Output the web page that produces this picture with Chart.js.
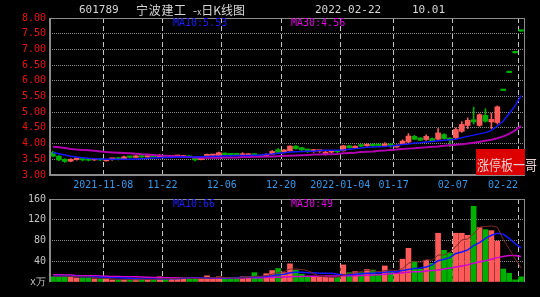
<!DOCTYPE html>
<html>
<head>
<meta charset="utf-8">
<script src="https://cdn.jsdelivr.net/npm/chart.js@4.4.0/dist/chart.umd.min.js"></script>
<style>
html, body { margin: 0; padding: 0; background: #000; }
#wrap { position: relative; width: 540px; height: 297px; overflow: hidden; background: #000; }
canvas { position: absolute; left: 0; }
#priceChart { top: 0; }
#volChart { top: 192px; }
.txt { position: absolute; white-space: pre; font-family: 'DejaVu Sans Mono', monospace; font-size: 10px; line-height: 12px; }
.title { color: #d8d8d8; font-size: 11px; line-height: 13px; top: 3px; }
.cjk { font-family: 'Noto Sans CJK SC', sans-serif; font-size: 12px; }
#stamp { position: absolute; left: 476px; top: 149px; width: 49px; height: 26px; background: #dd0000; }
#stampText { position: absolute; left: 477px; top: 155px; color: #ecd0d0; font-family: 'Noto Sans CJK SC', sans-serif; font-size: 12px; line-height: 18px; white-space: pre; transform: scaleY(1.15); transform-origin: 0 50%; }
</style>
</head>
<body>
<div id="wrap">
  <canvas id="priceChart" width="540" height="192"></canvas>
  <canvas id="volChart" width="540" height="105"></canvas>

  <div class="txt title" style="left:79px">601789</div>
  <div class="txt title cjk" style="left:136px;letter-spacing:0.7px">宁波建工</div>
  <div class="txt title cjk" style="left:193px">-<span style="font-size:8px">x</span>日K线图</div>
  <div class="txt title" style="left:315px">2022-02-22</div>
  <div class="txt title" style="left:412px">10.01</div>

  <div class="txt" id="ma10Label" style="left:173px;top:17px;color:#1c1cff"></div>
  <div class="txt" id="ma30Label" style="left:291px;top:17px;color:#e000e0"></div>
  <div class="txt" id="vma10Label" style="left:173px;top:198px;color:#1c1cff"></div>
  <div class="txt" id="vma30Label" style="left:291px;top:198px;color:#e000e0"></div>

  <div id="stamp"></div>
  <div id="stampText">涨停板一哥</div>
</div>

<script>
const dates = [
  '2021-10-26', '2021-10-27', '2021-10-28', '2021-10-29',
  '2021-11-01', '2021-11-02', '2021-11-03', '2021-11-04', '2021-11-05',
  '2021-11-08', '2021-11-09', '2021-11-10', '2021-11-11', '2021-11-12',
  '2021-11-15', '2021-11-16', '2021-11-17', '2021-11-18', '2021-11-19',
  '2021-11-22', '2021-11-23', '2021-11-24', '2021-11-25', '2021-11-26',
  '2021-11-29', '2021-11-30', '2021-12-01', '2021-12-02', '2021-12-03',
  '2021-12-06', '2021-12-07', '2021-12-08', '2021-12-09', '2021-12-10',
  '2021-12-13', '2021-12-14', '2021-12-15', '2021-12-16', '2021-12-17',
  '2021-12-20', '2021-12-21', '2021-12-22', '2021-12-23', '2021-12-24',
  '2021-12-27', '2021-12-28', '2021-12-29', '2021-12-30', '2021-12-31',
  '2022-01-04', '2022-01-05', '2022-01-06', '2022-01-07',
  '2022-01-10', '2022-01-11', '2022-01-12', '2022-01-13', '2022-01-14',
  '2022-01-17', '2022-01-18', '2022-01-19', '2022-01-20', '2022-01-21',
  '2022-01-24', '2022-01-25', '2022-01-26', '2022-01-27', '2022-01-28',
  '2022-02-07', '2022-02-08', '2022-02-09', '2022-02-10', '2022-02-11',
  '2022-02-14', '2022-02-15', '2022-02-16', '2022-02-17', '2022-02-18',
  '2022-02-21', '2022-02-22'
];
const tickDates = ['2021-11-08', '2021-11-22', '2021-12-06', '2021-12-20', '2022-01-04', '2022-01-17', '2022-02-07', '2022-02-22'];

const opens = [
  3.72, 3.60, 3.50, 3.44, 3.49, 3.52, 3.49, 3.48, 3.50, 3.45,
  3.50, 3.55, 3.51, 3.58, 3.56, 3.58, 3.57, 3.61, 3.58, 3.61,
  3.57, 3.59, 3.57, 3.61, 3.56, 3.49, 3.56, 3.62, 3.62, 3.69,
  3.66, 3.66, 3.63, 3.63, 3.67, 3.62, 3.60, 3.66, 3.81, 3.72,
  3.77, 3.92, 3.87, 3.80, 3.76, 3.76, 3.66, 3.73, 3.76, 3.77,
  3.93, 3.87, 3.95, 3.93, 3.98, 3.96, 3.93, 3.97, 3.89, 3.99,
  4.05, 4.23, 4.18, 4.13, 4.16, 4.14, 4.29, 4.17, 4.19, 4.39,
  4.58, 4.76, 4.58, 4.90, 4.69, 4.67, 5.69, 6.26, 6.89, 7.58
];
const highs = [
  3.75, 3.62, 3.52, 3.52, 3.56, 3.53, 3.51, 3.51, 3.51, 3.51,
  3.52, 3.56, 3.60, 3.59, 3.62, 3.61, 3.62, 3.62, 3.66, 3.62,
  3.61, 3.62, 3.63, 3.62, 3.57, 3.55, 3.67, 3.64, 3.73, 3.70,
  3.69, 3.67, 3.71, 3.68, 3.68, 3.63, 3.68, 3.78, 3.84, 3.81,
  3.93, 3.94, 3.88, 3.82, 3.82, 3.78, 3.75, 3.77, 3.78, 3.94,
  3.95, 3.93, 3.97, 3.99, 3.99, 3.97, 4.03, 3.99, 3.96, 4.12,
  4.32, 4.26, 4.19, 4.28, 4.18, 4.48, 4.32, 4.19, 4.50, 4.70,
  4.82, 5.16, 4.95, 5.11, 4.97, 5.20, 5.69, 6.26, 6.89, 7.58
];
const lows = [
  3.58, 3.46, 3.40, 3.42, 3.47, 3.45, 3.45, 3.46, 3.46, 3.44,
  3.47, 3.48, 3.50, 3.54, 3.55, 3.56, 3.56, 3.57, 3.56, 3.57,
  3.56, 3.57, 3.56, 3.55, 3.45, 3.48, 3.55, 3.60, 3.60, 3.64,
  3.60, 3.62, 3.62, 3.61, 3.61, 3.58, 3.59, 3.65, 3.68, 3.70,
  3.76, 3.82, 3.78, 3.72, 3.72, 3.72, 3.63, 3.70, 3.70, 3.76,
  3.85, 3.85, 3.90, 3.91, 3.91, 3.91, 3.92, 3.88, 3.88, 3.97,
  4.03, 4.12, 4.09, 4.10, 4.06, 4.12, 4.14, 3.90, 4.16, 4.36,
  4.48, 4.62, 4.55, 4.68, 4.48, 4.62, 5.69, 6.26, 6.89, 7.58
];
const closes = [
  3.60, 3.48, 3.43, 3.50, 3.54, 3.48, 3.47, 3.50, 3.48, 3.50,
  3.51, 3.50, 3.58, 3.56, 3.61, 3.57, 3.61, 3.58, 3.62, 3.58,
  3.60, 3.61, 3.62, 3.56, 3.48, 3.54, 3.66, 3.63, 3.71, 3.65,
  3.64, 3.64, 3.66, 3.67, 3.63, 3.59, 3.66, 3.75, 3.72, 3.80,
  3.92, 3.84, 3.80, 3.78, 3.78, 3.77, 3.73, 3.74, 3.74, 3.93,
  3.87, 3.91, 3.92, 3.97, 3.93, 3.94, 3.99, 3.94, 3.95, 4.08,
  4.24, 4.14, 4.11, 4.23, 4.08, 4.34, 4.16, 4.11, 4.45, 4.61,
  4.74, 4.69, 4.92, 4.71, 4.77, 5.17, 5.69, 6.26, 6.89, 7.58
];
const ma10 = [
  3.72, 3.68, 3.64, 3.60, 3.57, 3.55, 3.53, 3.52, 3.51, 3.50,
  3.50, 3.50, 3.50, 3.50, 3.51, 3.52, 3.53, 3.54, 3.55, 3.56,
  3.56, 3.57, 3.57, 3.57, 3.57, 3.58, 3.59, 3.60, 3.60, 3.61,
  3.61, 3.62, 3.62, 3.62, 3.63, 3.64, 3.66, 3.67, 3.69, 3.71,
  3.73, 3.74, 3.75, 3.76, 3.76, 3.78, 3.79, 3.79, 3.79, 3.80,
  3.82, 3.84, 3.86, 3.88, 3.89, 3.90, 3.91, 3.92, 3.94, 3.97,
  3.99, 4.02, 4.03, 4.05, 4.07, 4.09, 4.11, 4.12, 4.14, 4.19,
  4.23, 4.27, 4.31, 4.35, 4.42, 4.56, 4.72, 4.96, 5.20, 5.53
];
const ma30 = [
  3.90, 3.88, 3.86, 3.83, 3.81, 3.80, 3.79, 3.77, 3.75, 3.73,
  3.72, 3.71, 3.70, 3.69, 3.68, 3.66, 3.65, 3.64, 3.62, 3.61,
  3.60, 3.59, 3.58, 3.57, 3.56, 3.55, 3.55, 3.55, 3.55, 3.56,
  3.56, 3.56, 3.57, 3.57, 3.58, 3.58, 3.59, 3.59, 3.60, 3.61,
  3.61, 3.62, 3.63, 3.64, 3.65, 3.65, 3.66, 3.66, 3.67, 3.69,
  3.70, 3.71, 3.73, 3.74, 3.75, 3.77, 3.78, 3.80, 3.81, 3.83,
  3.84, 3.85, 3.87, 3.88, 3.90, 3.91, 3.93, 3.95, 3.96, 3.98,
  4.00, 4.03, 4.06, 4.09, 4.12, 4.17, 4.23, 4.31, 4.42, 4.56
];

// volume in 万手
const volumes = [
  10, 10, 12, 12, 8, 8, 8, 6, 6, 6,
  4, 4, 4, 4, 6, 6, 4, 5, 10, 7,
  8, 7, 7, 7, 7, 7, 12, 7, 10, 7,
  7, 7, 10, 10, 18, 7, 16, 22, 26, 18,
  35, 23, 15, 10, 9, 9, 9, 9, 9, 33,
  18, 20, 18, 24, 23, 15, 31, 21, 17, 44,
  65, 40, 25, 42, 36, 94, 61, 56, 94, 94,
  90, 146, 105, 101, 99, 79, 25, 17, 4, 10
];
const volMa5 = [
  11, 11, 11, 11, 10, 10, 10, 8, 7, 7,
  6, 5, 5, 5, 4, 5, 5, 5, 6, 6,
  7, 7, 8, 7, 7, 7, 8, 8, 9, 9,
  8, 8, 8, 9, 11, 11, 12, 15, 18, 20,
  25, 25, 24, 22, 16, 11, 10, 9, 9, 14,
  16, 18, 20, 23, 21, 20, 22, 23, 22, 26,
  36, 40, 38, 43, 42, 52, 52, 58, 68, 81,
  83, 93, 106, 107, 108, 106, 82, 64, 45, 27
];
const volMa10 = [
  11, 11, 11, 11, 10.5, 10, 10, 9.5, 9, 8.5,
  8, 8, 7.5, 7, 6.5, 6, 6, 6, 6, 6,
  6.5, 6.5, 7, 7, 7, 7.5, 7.5, 8, 8, 8,
  8, 8.5, 8.5, 9, 10, 10, 11, 12, 14, 15,
  18, 19, 19, 18, 18, 17, 17, 17, 15, 14,
  14, 15, 16, 17, 17, 18, 19, 20, 20, 22,
  24, 26, 27, 29, 33, 41, 44, 47, 55, 58,
  62, 70, 76, 84, 90, 94, 92, 84, 74, 66
];
const volMa30 = [
  14, 14, 13.5, 13.5, 12.5, 12, 12, 12, 11.5, 11,
  10.5, 10.5, 10, 10, 10, 9.5, 9, 8.5, 8.5, 8,
  8, 8, 7.5, 7.5, 7.5, 7.5, 7.5, 7.5, 7.5, 7.5,
  7.5, 7.5, 7.5, 8, 8, 8, 8.5, 9, 9, 9.5,
  10, 10.5, 10.5, 11, 11, 11, 11.5, 11.5, 11.5, 12,
  12, 12, 12.5, 13, 13.5, 14, 15, 16, 17, 18,
  19, 20, 20, 21, 22, 23, 25, 27, 29, 31,
  33, 36, 39, 41, 44, 47, 49, 51, 51, 49
];

const upColor = '#ff5a5a';
const downColor = '#00b000';
const candleColors = closes.map((c, i) => c > opens[i] ? upColor : downColor);
const monoFont = { family: 'DejaVu Sans Mono', size: 10 };
const gridGray = '#8a8a8a';
const vLineGray = '#c4c4c4';

document.getElementById('ma10Label').textContent = 'MA10:' + ma10[ma10.length - 1].toFixed(2);
document.getElementById('ma30Label').textContent = 'MA30:' + ma30[ma30.length - 1].toFixed(2);
document.getElementById('vma10Label').textContent = 'MA10:' + volMa10[volMa10.length - 1].toFixed(0);
document.getElementById('vma30Label').textContent = 'MA30:' + volMa30[volMa30.length - 1].toFixed(0);

function dateTick(v, i) {
    const d = dates[i];
    const k = tickDates.indexOf(d);
    if (k < 0) return '';
    let s = (k === 0 || tickDates[k - 1].slice(0, 4) !== d.slice(0, 4)) ? d : d.slice(5);
    // keep the last label inside the plot, like the original
    if (i === dates.length - 1) s += '     ';
    return s;
}

function dateGridColor(ctx) {
    return tickDates.includes(dates[ctx.index]) ? vLineGray : 'rgba(0,0,0,0)';
}

// plot frame: top and right 1px, left 2px, bottom optional
const framePlugin = {
    id: 'frame',
    afterDatasetsDraw(chart, args, opts) {
        const { ctx, chartArea: a } = chart;
        ctx.save();
        ctx.strokeStyle = '#8c8c8c';
        ctx.lineWidth = 1;
        ctx.beginPath();
        ctx.moveTo(a.left, a.top + 0.5);
        ctx.lineTo(a.right + 1, a.top + 0.5);
        ctx.moveTo(a.right + 0.5, a.top);
        ctx.lineTo(a.right + 0.5, a.bottom);
        ctx.stroke();
        ctx.lineWidth = 2;
        ctx.beginPath();
        ctx.moveTo(a.left, a.top);
        ctx.lineTo(a.left, a.bottom + (opts.bottom ? 1 : 0));
        if (opts.bottom) {
            ctx.moveTo(a.left, a.bottom);
            ctx.lineTo(a.right + 1, a.bottom);
        }
        ctx.stroke();
        ctx.restore();
    }
};

function fitX(h) {
    return function(s) { s.height = h; s.paddingLeft = 0; s.paddingRight = 0; };
}
function fitY(s) {
    s.width = 50; s.paddingTop = 0; s.paddingBottom = 0;
}

new Chart(document.getElementById('priceChart'), {
    type: 'bar',
    data: {
        labels: dates,
        datasets: [
            { type: 'line', label: 'MA10', data: ma10, borderColor: '#1414ff', borderWidth: 1.5, pointRadius: 0, tension: 0, order: 0 },
            { type: 'line', label: 'MA30', data: ma30, borderColor: '#b000b0', borderWidth: 2, pointRadius: 0, tension: 0, order: 0 },
            { label: 'body', data: opens.map((o, i) => [o, closes[i]]), backgroundColor: candleColors, barThickness: 5, minBarLength: 1.5, grouped: false, order: 1 },
            { label: 'wick', data: lows.map((l, i) => [l, highs[i]]), backgroundColor: candleColors, barThickness: 1, grouped: false, order: 2 }
        ]
    },
    options: {
        responsive: false,
        animation: false,
        layout: { padding: { top: 18, right: 16, left: 0, bottom: 0 } },
        plugins: {
            legend: { display: false },
            tooltip: { enabled: false },
            frame: { bottom: true }
        },
        scales: {
            x: {
                afterFit: fitX(17),
                grid: { color: dateGridColor, lineWidth: 1, drawTicks: false },
                border: { display: false, dash: [5, 3] },
                ticks: { autoSkip: false, maxRotation: 0, minRotation: 0, padding: 4, labelOffset: -3, color: '#3399ee', font: monoFont, callback: dateTick }
            },
            y: {
                min: 3,
                max: 8,
                afterFit: fitY,
                grid: { color: ctx => (ctx.tick.value > 3 && ctx.tick.value < 8) ? gridGray : 'rgba(0,0,0,0)', drawTicks: false },
                border: { display: false, dash: [1, 1] },
                ticks: { stepSize: 0.5, padding: 4, color: '#ee1111', font: monoFont, callback: v => v.toFixed(2) }
            }
        }
    },
    plugins: [framePlugin]
});

new Chart(document.getElementById('volChart'), {
    type: 'bar',
    data: {
        labels: dates,
        datasets: [
            { type: 'line', label: 'MA5', data: volMa5, borderColor: '#7a2a2a', borderWidth: 1, pointRadius: 0, tension: 0, order: 0 },
            { type: 'line', label: 'MA10', data: volMa10, borderColor: '#1414ff', borderWidth: 1.5, pointRadius: 0, tension: 0, order: 0 },
            { type: 'line', label: 'MA30', data: volMa30, borderColor: '#d000d0', borderWidth: 1.5, pointRadius: 0, tension: 0, order: 0 },
            { label: 'VOL', data: volumes, backgroundColor: candleColors, barThickness: 5, grouped: false, order: 1 }
        ]
    },
    options: {
        responsive: false,
        animation: false,
        layout: { padding: { top: 7, right: 16, left: 0, bottom: 0 } },
        plugins: {
            legend: { display: false },
            tooltip: { enabled: false },
            frame: { bottom: false }
        },
        scales: {
            x: {
                afterFit: fitX(15),
                grid: { color: dateGridColor, lineWidth: 1, drawTicks: false },
                border: { display: false, dash: [5, 3] },
                ticks: { display: false, autoSkip: false }
            },
            y: {
                min: 0,
                max: 160,
                afterFit: fitY,
                grid: { color: ctx => (ctx.tick.value > 0 && ctx.tick.value < 160) ? gridGray : 'rgba(0,0,0,0)', drawTicks: false },
                border: { display: false, dash: [1, 1] },
                ticks: { stepSize: 40, padding: 4, color: '#c4c4c4', font: monoFont, callback: v => v === 0 ? 'x万' : v }
            }
        }
    },
    plugins: [framePlugin]
});
</script>
</body>
</html>
